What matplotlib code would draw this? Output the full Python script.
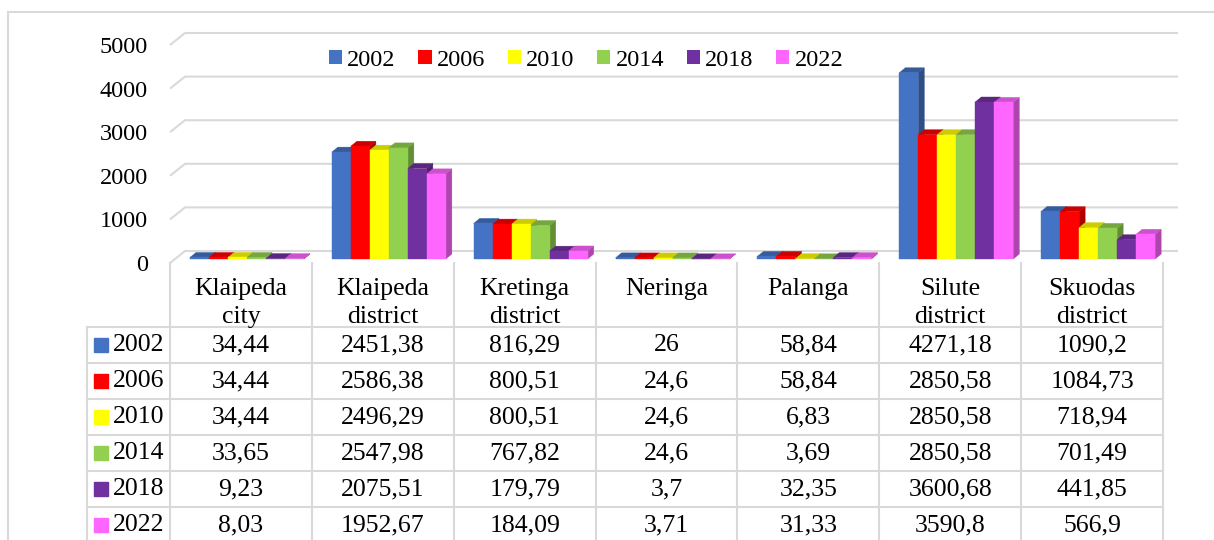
import matplotlib
matplotlib.use('Agg')
import matplotlib.pyplot as plt
from matplotlib.patches import Polygon, Patch, Rectangle
from matplotlib.colors import to_rgb

plt.rcParams['font.family'] = ['Liberation Serif', 'DejaVu Serif']

# data
categories = ['Klaipeda\ncity', 'Klaipeda\ndistrict', 'Kretinga\ndistrict', 'Neringa',
              'Palanga', 'Silute\ndistrict', 'Skuodas\ndistrict']
years = ['2002', '2006', '2010', '2014', '2018', '2022']
v2002 = [34.44, 2451.38, 816.29, 26, 58.84, 4271.18, 1090.2]
v2006 = [34.44, 2586.38, 800.51, 24.6, 58.84, 2850.58, 1084.73]
v2010 = [34.44, 2496.29, 800.51, 24.6, 6.83, 2850.58, 718.94]
v2014 = [33.65, 2547.98, 767.82, 24.6, 3.69, 2850.58, 701.49]
v2018 = [9.23, 2075.51, 179.79, 3.7, 32.35, 3600.68, 441.85]
v2022 = [8.03, 1952.67, 184.09, 3.71, 31.33, 3590.8, 566.9]
series = [v2002, v2006, v2010, v2014, v2018, v2022]
colors = ['#4472C4', '#FF0000', '#FFFF00', '#92D050', '#7030A0', '#FF66FF']
yticks = [0, 1000, 2000, 3000, 4000, 5000]

W, H = 1214, 540
GRID = '#D9D9D9'


def fx(px):
    return px / W


def fy(py):
    return 1 - py / H


def shade(c, k):
    r, g, b = to_rgb(c)
    return (r * k, g * k, b * k)


def fmt(v):
    return '{:g}'.format(v).replace('.', ',')


fig = plt.figure(figsize=(W / 100, H / 100), dpi=100)

# outer chart border
fig.add_artist(Rectangle((fx(8), -0.2), 1.2, fy(12) + 0.2, transform=fig.transFigure,
                         fill=False, edgecolor=GRID, lw=1.5))

# chart area, front plane: x = category index, y = value
ax = fig.add_axes([fx(170), fy(263), fx(1163) - fx(170), fy(45) - fy(263)])
ax.set_xlim(0, len(categories))
ax.set_ylim(0, 5000)
px_x = len(categories) / (1163 - 170)
px_y = 5000 / (263 - 45)

# depth of the floor / back wall and of the bars
DX, DY = 15 * px_x, 12 * px_y
BDX, BDY = 6 * px_x, 5 * px_y
BASE = 4 * px_y
BW = 19 * px_x
OFF = 20 * px_x

for t in yticks:
    ax.plot([0, DX, len(categories) + DX], [t, t + DY, t + DY], color=GRID, lw=1.5,
            clip_on=False, zorder=1, solid_capstyle='butt')

for j, vals in enumerate(series):
    xs = [i + OFF + j * BW for i in range(len(categories))]
    ax.bar(xs, vals, width=BW, bottom=BASE, align='edge', color=colors[j],
           edgecolor=colors[j], lw=0.3, zorder=3 + 2 * j, clip_on=False)
    for x0, v in zip(xs, vals):
        top = BASE + v
        side = [(x0 + BW, BASE), (x0 + BW + BDX, BASE + BDY),
                (x0 + BW + BDX, top + BDY), (x0 + BW, top)]
        lid = [(x0, top), (x0 + BW, top), (x0 + BW + BDX, top + BDY), (x0 + BDX, top + BDY)]
        ax.add_patch(Polygon(side, closed=True, fc=shade(colors[j], 0.68),
                             ec=shade(colors[j], 0.68), lw=0.3, zorder=2 + 2 * j, clip_on=False))
        ax.add_patch(Polygon(lid, closed=True, fc=shade(colors[j], 0.8),
                             ec=shade(colors[j], 0.8), lw=0.3, zorder=2 + 2 * j, clip_on=False))

for s in ax.spines.values():
    s.set_visible(False)
ax.set_xticks([])
ax.set_yticks(yticks)
ax.set_yticklabels([str(t) for t in yticks], fontsize=17.5)
ax.tick_params(axis='y', length=0, pad=16)
ax.set_facecolor('none')

handles = [Patch(facecolor=c, edgecolor='none') for c in colors]
ax.legend(handles, years, loc='center', bbox_to_anchor=(0.419, 0.93), ncol=6,
          frameon=False, fontsize=17.5, handlelength=0.55, handleheight=0.55,
          handletextpad=0.22, columnspacing=0.92)

# data table below the chart
HEAD = (327 - 263) / 36
n_rows = len(years)
tab = fig.add_axes([fx(87), fy(263 + 36 * (HEAD + n_rows)), fx(1163) - fx(87),
                    fy(263) - fy(263 + 36 * (HEAD + n_rows))])
left = -83 * px_x
tab.set_xlim(left, len(categories))
tab.set_ylim(HEAD + n_rows, 0)
tab.set_axis_off()

for i in range(len(categories) + 1):
    tab.plot([i, i], [0, HEAD + n_rows], color=GRID, lw=1.5, clip_on=False)
tab.plot([left, left], [HEAD, HEAD + n_rows], color=GRID, lw=1.5, clip_on=False)
for r in range(n_rows + 1):
    tab.plot([left, len(categories)], [HEAD + r, HEAD + r], color=GRID, lw=1.5, clip_on=False)

# header: each line placed on its own baseline (28 px apart)
for i, name in enumerate(categories):
    for k, line in enumerate(name.split('\n')):
        tab.text(i + 0.5, (32 + 28 * k) / 36, line, ha='center', va='baseline', fontsize=18.5)

for r, (yr, vals) in enumerate(zip(years, series)):
    yc = HEAD + r + 0.5
    tab.plot([left + 14 * px_x], [yc], marker='s', ms=9.5, color=colors[r], clip_on=False)
    tab.text(left + 26 * px_x, yc, yr, ha='left', va='center', fontsize=18.5)
    for i, v in enumerate(vals):
        tab.text(i + 0.5, yc, fmt(v), ha='center', va='center', fontsize=18.5)

fig.savefig('out.png', dpi=100)
